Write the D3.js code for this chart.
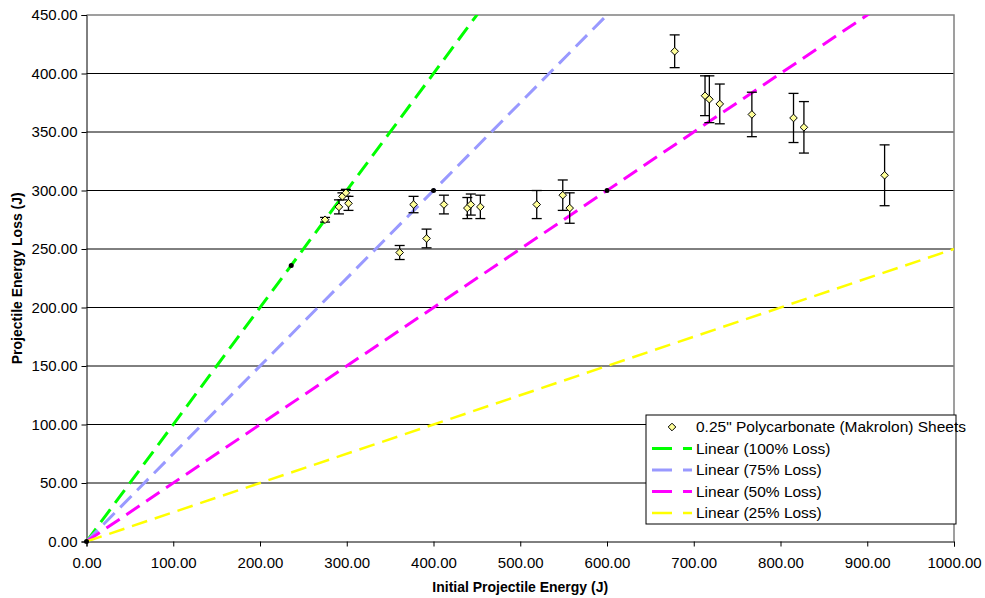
<!DOCTYPE html>
<html>
<head>
<meta charset="utf-8">
<title>Projectile Energy Loss</title>
<script src="https://d3js.org/d3.v7.min.js"></script>
<style>
  body { margin: 0; background: #fff; }
  text { font-family: "Liberation Sans", Arial, sans-serif; }
  .tick text { font-size: 15px; fill: #000; }
  .axis-title { font-size: 14px; font-weight: bold; }
</style>
</head>
<body>
<div id="chart"></div>
<script>
// measured points (initial energy, energy loss, error)
var energy = [275, 291, 295, 299, 302, 361, 377, 392, 412, 439, 443, 454, 519, 549, 557, 678, 713, 718, 730, 767, 815, 827, 920];
var loss   = [275, 286, 295, 298, 289, 247, 288, 259, 288, 285, 288, 286, 288, 296, 285, 419, 381, 378, 374, 365, 362, 354, 313];
var errs   = [2, 6, 3, 3, 6, 6, 7, 8, 8, 9, 9, 10, 12, 13, 13, 14, 17, 20, 17, 19, 21, 22, 26];

// reference loss lines
var lineNames  = ["Linear (100% Loss)", "Linear (75% Loss)", "Linear (50% Loss)", "Linear (25% Loss)"];
var lineSlopes = [1, 0.75, 0.5, 0.25];
var lineColors = ["#00ff00", "#9999ff", "#ff00ff", "#ffff00"];
var anchorX = [0, 236, 400, 600];
var anchorY = [0, 236, 300, 300];

var seriesName = "0.25\" Polycarbonate (Makrolon) Sheets";
var xTicks = d3.range(0, 1001, 100);
var yTicks = d3.range(0, 451, 50);

var W = 985, H = 598;
var m = {left: 86.5, right: 954, top: 15, bottom: 541.5};

var svg = d3.select("#chart").append("svg").attr("width", W).attr("height", H);

var x = d3.scaleLinear().domain([0, 1000]).range([m.left, m.right]);
var y = d3.scaleLinear().domain([0, 450]).range([m.bottom, m.top]);

svg.append("clipPath").attr("id", "plot")
  .append("rect").attr("x", m.left).attr("y", m.top)
  .attr("width", m.right - m.left).attr("height", m.bottom - m.top);

// gridlines
svg.append("g").selectAll("line").data(yTicks.filter(d => d > 0 && d < 450)).enter()
  .append("line")
  .attr("x1", m.left).attr("x2", m.right)
  .attr("y1", d => y(d)).attr("y2", d => y(d))
  .attr("stroke", "#000").attr("stroke-width", 1);

// plot border (top, right)
svg.append("path")
  .attr("d", "M" + m.left + "," + y(450) + "H" + m.right + "V" + m.bottom)
  .attr("fill", "none").attr("stroke", "#808080").attr("stroke-width", 1.5);

// axes
svg.append("g").attr("transform", "translate(0," + m.bottom + ")")
  .call(d3.axisBottom(x).tickValues(xTicks).tickFormat(d3.format(".2f")).tickSize(5).tickPadding(11))
  .call(g => g.select(".domain").attr("stroke", "#000"));

svg.append("g").attr("transform", "translate(" + m.left + ",0)")
  .call(d3.axisLeft(y).tickValues(yTicks).tickFormat(d3.format(".2f")).tickSize(5).tickPadding(4))
  .call(g => g.select(".domain").attr("stroke", "#000"));

// loss lines
var lines = svg.append("g").attr("clip-path", "url(#plot)");
lineSlopes.forEach(function(s, i) {
  lines.append("line")
    .attr("x1", x(0)).attr("y1", y(0))
    .attr("x2", x(1000)).attr("y2", y(1000 * s))
    .attr("stroke", lineColors[i])
    .attr("stroke-width", i === 3 ? 2.5 : 3)
    .attr("stroke-dasharray", "16,8");
});

// anchor points of the loss lines
svg.append("g").selectAll("circle").data(anchorX).enter()
  .append("circle")
  .attr("cx", d => x(d))
  .attr("cy", (d, i) => y(anchorY[i]))
  .attr("r", 2.5).attr("fill", "#000");

// error bars
var eb = svg.append("g").attr("stroke", "#000").attr("stroke-width", 1.3);
energy.forEach(function(e, i) {
  var top = y(loss[i] + errs[i]), bot = y(loss[i] - errs[i]), cx = x(e);
  eb.append("line").attr("x1", cx).attr("x2", cx).attr("y1", top).attr("y2", bot);
  eb.append("line").attr("x1", cx - 5).attr("x2", cx + 5).attr("y1", top).attr("y2", top);
  eb.append("line").attr("x1", cx - 5).attr("x2", cx + 5).attr("y1", bot).attr("y2", bot);
});

// markers (square diamond)
var diamond = "M0,-3.8L3.8,0L0,3.8L-3.8,0Z";
svg.append("g").selectAll("path").data(energy).enter()
  .append("path")
  .attr("d", diamond)
  .attr("transform", (d, i) => "translate(" + x(d) + "," + y(loss[i]) + ")")
  .attr("fill", "#ffff99").attr("stroke", "#000").attr("stroke-width", 1);

// axis titles
svg.append("text").attr("class", "axis-title")
  .attr("x", (m.left + m.right) / 2).attr("y", 592)
  .attr("text-anchor", "middle").text("Initial Projectile Energy (J)");

svg.append("text").attr("class", "axis-title")
  .attr("transform", "translate(22," + ((m.top + m.bottom) / 2) + ") rotate(-90)")
  .attr("text-anchor", "middle").text("Projectile Energy Loss (J)");

// legend
var lg = svg.append("g").attr("transform", "translate(646,415)");
lg.append("rect").attr("width", 310).attr("height", 109)
  .attr("fill", "#fff").attr("stroke", "#000").attr("stroke-width", 1);

var rowY = function(i) { return 12 + i * 21.5; };
lg.append("path").attr("d", diamond)
  .attr("transform", "translate(26," + rowY(0) + ")")
  .attr("fill", "#ffff99").attr("stroke", "#000");
lg.append("text").attr("x", 50).attr("y", rowY(0)).attr("dy", "0.35em")
  .style("font-size", "15.5px").text(seriesName);

lineNames.forEach(function(n, i) {
  var yy = rowY(i + 1);
  lg.append("line").attr("x1", 6).attr("x2", 46).attr("y1", yy).attr("y2", yy)
    .attr("stroke", lineColors[i]).attr("stroke-width", i === 3 ? 2.5 : 3)
    .attr("stroke-dasharray", "20,11");
  lg.append("text").attr("x", 50).attr("y", yy).attr("dy", "0.35em")
    .style("font-size", "15.5px").text(n);
});
</script>
</body>
</html>
